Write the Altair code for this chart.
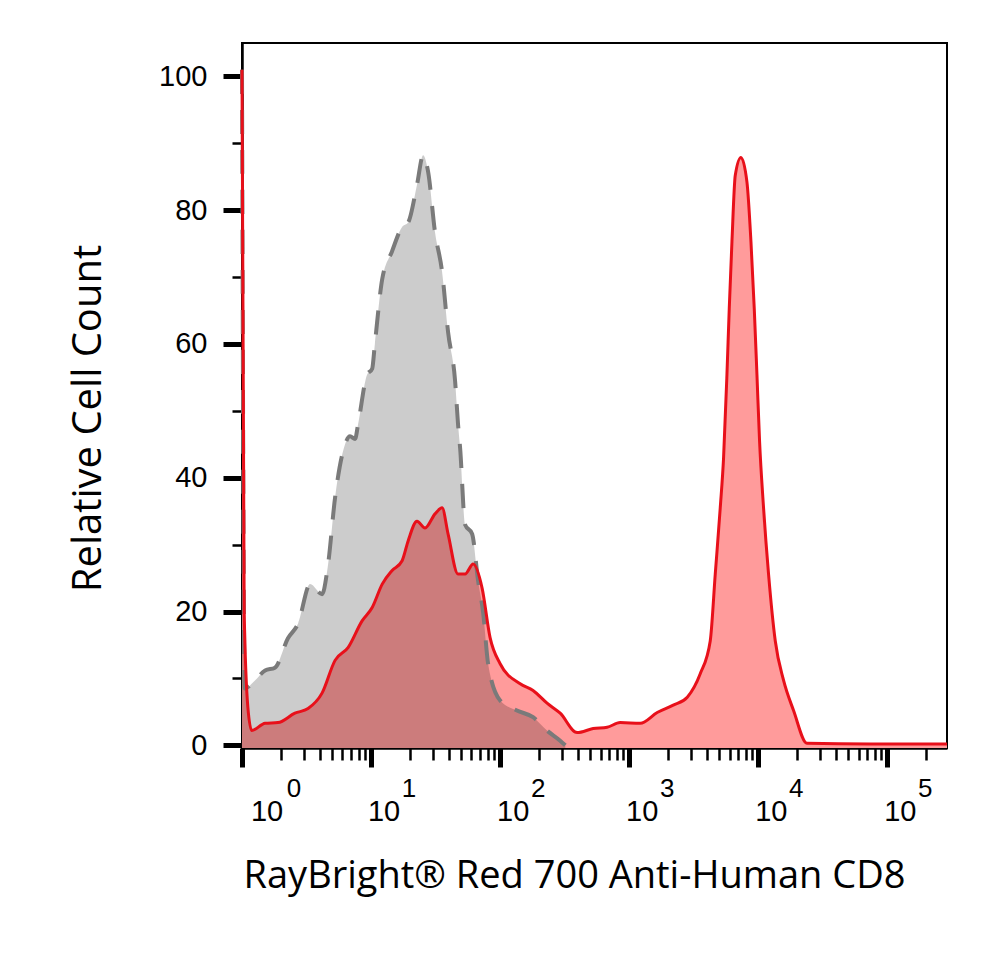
import altair as alt
import pandas as pd

# fluorescence intensity (x) and relative cell count (y)
gray_x = [1.0, 1.05, 1.26, 1.51, 1.8, 2.27, 2.72, 3.37, 4.17, 4.64, 5.26, 6.29, 6.87,
          7.52, 7.93, 9.31, 10.2, 10.7, 12.2, 14.5, 17.4, 19.4, 22.7, 25.3, 27.7, 31.3,
          35.5, 39.5, 44.8, 47.2, 49.0, 53.5, 60.7, 67.5, 74.0, 80.7, 100, 135, 180,
          231, 292, 320]
gray_y = [101, 8.5, 9.7, 11.2, 11.6, 16.0, 18.2, 24.1, 22.6, 27.0, 37.0, 45.0, 46.2,
          45.8, 48.0, 55.4, 56.3, 60.0, 69.7, 73.8, 77.5, 78.2, 83.8, 88.2, 85.7, 76.7,
          70.8, 61.8, 54.4, 48.0, 44.4, 33.0, 31.6, 24.6, 19.7, 12.2, 6.7, 5.2, 4.2,
          2.2, 0.7, 0.0]

red_x = [1.0, 1.04, 1.11, 1.19, 1.51, 1.90, 2.57, 3.25, 4.17, 5.26, 6.63, 8.52, 10.2,
         12.2, 14.5, 17.4, 19.4, 22.7, 26.2, 31.3, 35.5, 39.5, 47.2, 53.5, 61.8, 72.5,
         83.6, 100, 143, 180, 231, 292, 395, 526, 675, 851, 1217, 1648, 2194, 2818,
         3552, 4245, 4643, 5075, 5383, 5719, 5961, 6254, 6632, 7343, 8174, 8778, 9311,
         9770, 10235, 10992, 12016, 13548, 15711, 18776, 23853, 73800, 290000]
red_y = [101, 20.0, 5.7, 2.2, 3.3, 3.4, 4.8, 5.5, 7.8, 12.7, 14.6, 18.6, 20.6,
         24.1, 26.1, 27.6, 30.6, 33.5, 32.5, 34.6, 35.5, 31.6, 25.6, 25.6, 27.1, 23.5,
         16.1, 12.2, 9.2, 8.2, 6.3, 4.8, 1.9, 2.5, 2.7, 3.4, 3.3, 4.9, 6.0, 7.2,
         10.7, 15.6, 25.6, 35.5, 42.9, 55.4, 65.3, 75.3, 85.2, 87.9, 84.2, 75.3, 65.3,
         55.4, 45.5, 35.5, 25.6, 15.6, 9.7, 5.2, 0.3, 0.2, 0.2]

major_ticks = [1, 10, 100, 1000, 10000, 100000]
exponents = ["0", "1", "2", "3", "4", "5"]
minor_ticks = [m * 10 ** e for e in range(6) for m in range(2, 10) if m * 10 ** e < 290000]
y_ticks = list(range(0, 110, 5))

gray = pd.DataFrame({"x": gray_x, "y": gray_y})
red = pd.DataFrame({"x": red_x, "y": red_y})
labels = pd.DataFrame({"x": major_ticks, "exp": exponents})

W, H = 705, 705
TITLE_FONT = "Open Sans"
TICK_FONT = "Liberation Sans"

x_scale = alt.Scale(type="log", domain=[1, 290000], nice=False)
y_scale = alt.Scale(domain=[-0.4, 105], nice=False, zero=False)

is_major_x = "indexof([1,10,100,1000,10000,100000], datum.value) >= 0"
is_major_y = "datum.value % 20 === 0"

x_axis = alt.Axis(
    values=major_ticks + minor_ticks,
    labels=False,
    grid=False,
    domainColor="black",
    domainWidth=2.5,
    tickColor="black",
    tickSize={"condition": {"test": is_major_x, "value": 19}, "value": 12},
    tickWidth={"condition": {"test": is_major_x, "value": 5}, "value": 2.5},
    title="RayBright® Red 700 Anti-Human CD8",
    titleFont=TITLE_FONT,
    titleFontSize=38,
    titleFontWeight="normal",
    titleColor="black",
    titleX=332,
    titleY=128,
    titleAlign="center",
    titleBaseline="middle",
)

y_axis = alt.Axis(
    values=y_ticks,
    labelExpr="datum.value % 20 === 0 ? datum.label : ''",
    labelFont=TICK_FONT,
    labelFontSize=29,
    labelColor="black",
    labelPadding=16,
    grid=False,
    domainColor="black",
    domainWidth=2.5,
    tickColor="black",
    tickSize={"condition": {"test": is_major_y, "value": 19}, "value": 10},
    tickWidth={"condition": {"test": is_major_y, "value": 5}, "value": 2.5},
    title="Relative Cell Count",
    titleFont=TITLE_FONT,
    titleFontSize=40,
    titleFontWeight="normal",
    titleColor="black",
    titleX=-154,
    titleY=375,
    titleAlign="center",
    titleBaseline="middle",
)

red_area = alt.Chart(red).mark_area(color="#ff9b9b", interpolate="monotone").encode(
    x=alt.X("x:Q", scale=x_scale, axis=x_axis),
    y=alt.Y("y:Q", scale=y_scale, axis=y_axis),
    y2=alt.Y2(datum=-0.4),
)

gray_area = alt.Chart(gray).mark_area(color="black", opacity=0.2, interpolate="monotone").encode(
    x="x:Q", y="y:Q", y2=alt.Y2(datum=-0.4)
)

gray_line = alt.Chart(gray).mark_line(
    color="#7a7a7a", strokeWidth=4, strokeDash=[24, 16], interpolate="monotone"
).encode(x="x:Q", y="y:Q")

red_line = alt.Chart(red).mark_line(
    color="#e8101a", strokeWidth=3, interpolate="monotone"
).encode(x="x:Q", y="y:Q")

# "10" with raised exponent under each decade
base = alt.Chart(labels)
ten_first = base.transform_filter("datum.x == 1").mark_text(
    text="10", font=TICK_FONT, fontSize=29, color="black", align="center", baseline="middle", dx=25
).encode(x="x:Q", y=alt.value(H + 64))
ten_rest = base.transform_filter("datum.x > 1").mark_text(
    text="10", font=TICK_FONT, fontSize=29, color="black", align="center", baseline="middle", dx=13
).encode(x="x:Q", y=alt.value(H + 64))
sup_first = base.transform_filter("datum.x == 1").mark_text(
    font=TICK_FONT, fontSize=26, color="black", align="center", baseline="middle", dx=52
).encode(x="x:Q", y=alt.value(H + 41), text="exp:N")
sup_rest = base.transform_filter("datum.x > 1").mark_text(
    font=TICK_FONT, fontSize=26, color="black", align="center", baseline="middle", dx=38
).encode(x="x:Q", y=alt.value(H + 41), text="exp:N")

chart = (
    alt.layer(red_area, gray_area, gray_line, red_line,
              ten_first, ten_rest, sup_first, sup_rest)
    .properties(
        width=W,
        height=H,
        autosize=alt.AutoSizeParams(type="none"),
        padding={"left": 234, "top": 35, "right": 40, "bottom": 200},
        background="white",
    )
    .configure_view(stroke="black", strokeWidth=2)
)

chart.save("out.html", embed_options={"renderer": "svg", "actions": False})
